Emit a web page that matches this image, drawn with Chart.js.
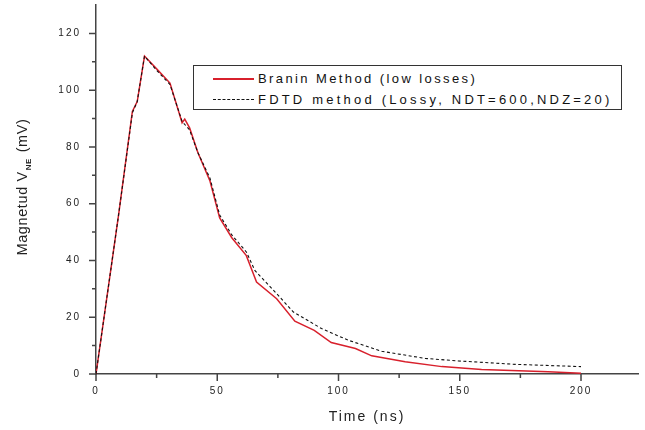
<!DOCTYPE html>
<html>
<head>
<meta charset="utf-8">
<script src="https://cdn.jsdelivr.net/npm/chart.js@4.4.1/dist/chart.umd.min.js"></script>
<style>
  html, body { margin: 0; padding: 0; background: #fff; }
  #wrap { position: relative; width: 645px; height: 430px; }
  #legend {
    position: absolute; left: 193px; top: 65px; width: 427px; height: 43px;
    border: 1px solid #333; background: #fff; box-sizing: content-box;
    font-family: "Liberation Sans", Arial, sans-serif; font-size: 13px;
    letter-spacing: 2.4px; color: #111;
  }
  #legend .row { position: absolute; left: 0; height: 16px; line-height: 16px; white-space: nowrap; }
  #legend .row + .row { letter-spacing: 3.2px; }
  #legend .swatch { position: absolute; left: 19px; top: 7px; width: 41px; }
  #legend .txt { position: absolute; left: 64px; top: 0; }
</style>
</head>
<body>
<div id="wrap">
  <canvas id="chart" width="645" height="430"></canvas>
  <div id="legend"></div>
</div>
<script>
// ---- data ----
const branTime  = [0, 9.3, 15, 17, 20, 25, 30.5, 35.5, 36.6, 38.6, 42, 47, 51, 56, 62, 66.2, 74.5, 82, 90, 97, 107, 113.7, 127.5, 142.6, 159, 186.5, 200];
const branValue = [0, 56, 92.5, 96, 112, 107.5, 102.5, 88.5, 89.8, 86.7, 78, 68, 55, 48, 41.7, 32.4, 26.5, 18.6, 15.4, 11.1, 9, 6.4, 4.3, 2.6, 1.6, 0.8, 0.3];

const fdtdTime  = [0, 9.3, 15, 17, 20, 25, 30.5, 35.5, 38.6, 42, 47, 51, 56, 62, 65.5, 74.5, 81.3, 93, 104, 117.8, 135.7, 149.5, 173, 200];
const fdtdValue = [0, 56, 92, 96, 112, 107, 102, 89, 86, 78, 69, 56, 49, 43, 36.5, 28.3, 21.9, 16, 11.9, 8, 5.5, 4.6, 3.4, 2.6];

const seriesLabels = ['Branin Method (low losses)', 'FDTD method (Lossy, NDT=600,NDZ=20)'];
const xTickLabels = [0, 50, 100, 150, 200];
const yTickLabels = [0, 20, 40, 60, 80, 100, 120];
const xMinorTicks = [25, 75, 125, 175];
const yMinorTicks = [10, 30, 50, 70, 90, 110];

const AXIS = '#444';
const RED = '#d8202c';
const FONT = '"Liberation Sans", Arial, sans-serif';

const toPoints = (xs, ys) => xs.map((x, i) => ({ x, y: ys[i] }));

// spaced-out text like the original export
const spacingPlugin = {
  id: 'spacing',
  beforeDraw(chart) { chart.ctx.letterSpacing = '2px'; },
  afterDraw(chart) { chart.ctx.letterSpacing = '0px'; },
};

// outward major/minor ticks + y title with subscript
const axisDecor = {
  id: 'axisDecor',
  afterDraw(chart) {
    const ctx = chart.ctx;
    const xs = chart.scales.x, ys = chart.scales.y;
    const left = chart.chartArea.left, bottom = chart.chartArea.bottom;
    ctx.save();
    ctx.strokeStyle = AXIS;
    ctx.lineWidth = 1.5;
    ctx.beginPath();
    xTickLabels.forEach(v => { const p = xs.getPixelForValue(v); ctx.moveTo(p, bottom); ctx.lineTo(p, bottom + 7); });
    xMinorTicks.forEach(v => { const p = xs.getPixelForValue(v); ctx.moveTo(p, bottom); ctx.lineTo(p, bottom + 4); });
    yTickLabels.forEach(v => { const p = ys.getPixelForValue(v); ctx.moveTo(left, p); ctx.lineTo(left - 7, p); });
    yMinorTicks.forEach(v => { const p = ys.getPixelForValue(v); ctx.moveTo(left, p); ctx.lineTo(left - 4, p); });
    ctx.stroke();

    // y title: Magnetud V_NE (mV)
    ctx.letterSpacing = '0.6px';
    ctx.translate(23, 187);
    ctx.rotate(-Math.PI / 2);
    ctx.fillStyle = '#222';
    ctx.textBaseline = 'middle';
    const f1 = '14.5px ' + FONT, f2 = 'bold 8px ' + FONT;
    const a = 'Magnetud V', b = 'NE', c = ' (mV)';
    ctx.font = f1; const wa = ctx.measureText(a).width, wc = ctx.measureText(c).width;
    ctx.font = f2; const wb = ctx.measureText(b).width;
    let x0 = -(wa + wb + wc + 2) / 2;
    ctx.font = f1; ctx.fillText(a, x0, 0);
    ctx.font = f2; ctx.fillText(b, x0 + wa + 1, 6);
    ctx.font = f1; ctx.fillText(c, x0 + wa + wb + 2, 0);
    ctx.restore();
  },
};

const chart = new Chart(document.getElementById('chart'), {
  type: 'line',
  data: {
    datasets: [
      {
        label: seriesLabels[0],
        data: toPoints(branTime, branValue),
        borderColor: RED,
        borderWidth: 1.5,
        pointRadius: 0,
        tension: 0,
        order: 1,
      },
      {
        label: seriesLabels[1],
        data: toPoints(fdtdTime, fdtdValue),
        borderColor: '#111',
        borderWidth: 1.1,
        borderDash: [3, 2.5],
        pointRadius: 0,
        tension: 0,
        order: 0,
      },
    ],
  },
  options: {
    responsive: false,
    animation: false,
    layout: { autoPadding: false, padding: { top: 5, right: 7, left: 0, bottom: 4 } },
    plugins: {
      legend: { display: false },
      tooltip: { enabled: false },
    },
    scales: {
      x: {
        type: 'linear',
        min: 0,
        max: 223.5,
        afterFit: (s) => { s.height = 52; s.paddingLeft = 0; s.paddingRight = 0; },
        afterBuildTicks: (s) => { s.ticks = xTickLabels.map(v => ({ value: v })); },
        grid: { display: false, drawTicks: false },
        border: { display: true, color: AXIS, width: 1.5 },
        ticks: {
          padding: 11,
          color: '#222',
          font: { family: FONT, size: 10 },
          maxRotation: 0,
        },
        title: {
          display: true,
          text: 'Time (ns)',
          color: '#222',
          font: { family: FONT, size: 14 },
          padding: { top: 6, bottom: 0 },
        },
      },
      y: {
        min: 0,
        max: 130,
        afterFit: (s) => { s.width = 96; s.paddingTop = 0; s.paddingBottom = 0; },
        afterBuildTicks: (s) => { s.ticks = yTickLabels.map(v => ({ value: v })); },
        grid: { display: false, drawTicks: false },
        border: { display: true, color: AXIS, width: 1.5 },
        ticks: {
          padding: 15,
          color: '#222',
          font: { family: FONT, size: 10 },
        },
      },
    },
  },
  plugins: [spacingPlugin, axisDecor],
});

// legend box built from dataset labels
const legend = document.getElementById('legend');
chart.data.datasets.forEach((ds, i) => {
  const row = document.createElement('div');
  row.className = 'row';
  row.style.top = (5 + i * 21) + 'px';
  const sw = document.createElement('span');
  sw.className = 'swatch';
  if (i === 0) {
    sw.style.height = '2px';
    sw.style.background = RED;
  } else {
    sw.style.borderTop = '1px dashed #111';
  }
  const tx = document.createElement('span');
  tx.className = 'txt';
  tx.textContent = ds.label;
  row.appendChild(sw);
  row.appendChild(tx);
  legend.appendChild(row);
});
</script>
</body>
</html>
